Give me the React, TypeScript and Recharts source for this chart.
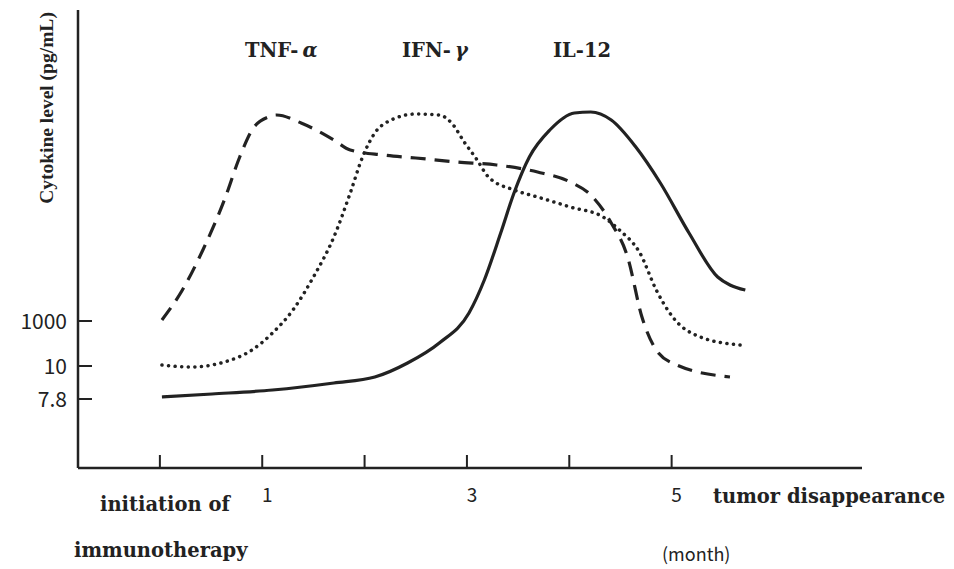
import { LineChart, Line, XAxis, YAxis } from "recharts";

// months since initiation of immunotherapy, relative cytokine level (axis is schematic)
const tnfMonths = [0.02, 0.22, 0.42, 0.63, 0.78, 0.9, 1.06, 1.14, 1.38, 1.7, 1.86, 2.18, 2.5, 2.9, 3.29, 3.69, 4.01, 4.21, 4.41, 4.57, 4.71, 4.85, 5.05, 5.57];
const tnfLevels = [148, 178, 218, 268, 311, 338, 351, 353, 345, 328, 318, 313, 310, 306, 303, 296, 286, 273, 245, 211, 151, 118, 103, 91];

const ifnMonths = [0.02, 0.3, 0.63, 0.9, 1.1, 1.3, 1.5, 1.7, 1.86, 1.98, 2.1, 2.26, 2.5, 2.73, 2.85, 2.98, 3.1, 3.21, 3.46, 3.69, 4.01, 4.33, 4.49, 4.69, 4.85, 5.01, 5.28, 5.67];
const ifnLevels = [103, 101, 106, 118, 135, 158, 191, 231, 275, 311, 335, 348, 354, 353, 345, 325, 308, 291, 278, 271, 261, 251, 238, 215, 178, 151, 131, 123];

const il12Months = [0.02, 0.51, 1.1, 1.7, 2.1, 2.42, 2.73, 3.02, 3.17, 3.33, 3.46, 3.61, 3.81, 4.05, 4.21, 4.41, 4.65, 4.89, 5.17, 5.45, 5.57, 5.72];
const il12Levels = [71, 74, 78, 85, 91, 105, 125, 155, 188, 235, 275, 311, 338, 355, 356, 348, 321, 285, 235, 191, 183, 178];

const xTicks = [0, 1, 2, 3, 4, 5];
const xTickLabels = ["", "1", "", "3", "", "5"];
const yTicks = [69, 102, 147];
const yTickLabels = ["7.8", "10", "1000"];

const toPoints = (months: number[], levels: number[]) =>
  months.map((m, i) => ({ month: m, level: levels[i] }));

const tnfData = toPoints(tnfMonths, tnfLevels);
const ifnData = toPoints(ifnMonths, ifnLevels);
const il12Data = toPoints(il12Months, il12Levels);

const INK = "#222";
const SERIF = "'DejaVu Serif', serif";
const GOTHIC = "'Noto Sans CJK JP', 'Noto Sans', sans-serif";

function XTick({ x, y, payload }: any) {
  const label = xTickLabels[xTicks.indexOf(payload.value)];
  return (
    <g>
      <line x1={x} y1={y} x2={x} y2={y - 13} stroke={INK} strokeWidth={2} />
      {label && (
        <text x={x + 5} y={y + 34} textAnchor="middle" fontFamily={GOTHIC} fontSize={19} fill={INK}>
          {label}
        </text>
      )}
    </g>
  );
}

function YTick({ x, y, payload }: any) {
  const label = yTickLabels[yTicks.indexOf(payload.value)];
  return (
    <g>
      <line x1={x} y1={y} x2={x + 14} y2={y} stroke={INK} strokeWidth={2} />
      <text x={x - 11} y={y} dy="0.36em" textAnchor="end" fontFamily={GOTHIC} fontSize={21} fill={INK}>
        {label}
      </text>
    </g>
  );
}

export default function App() {
  return (
    <div style={{ position: "absolute", left: 0, top: 0, background: "#fff" }}>
      <LineChart width={954} height={569} margin={{ top: 10, right: 92, bottom: 71, left: 18 }}>
        <XAxis
          dataKey="month"
          type="number"
          domain={[-0.8, 6.86]}
          ticks={xTicks}
          tick={<XTick />}
          tickSize={0}
          tickMargin={0}
          tickLine={false}
          axisLine={{ stroke: INK, strokeWidth: 2.5 }}
          allowDataOverflow
        />
        <YAxis
          type="number"
          domain={[0, 458]}
          ticks={yTicks}
          tick={<YTick />}
          tickSize={0}
          tickMargin={0}
          tickLine={false}
          axisLine={{ stroke: INK, strokeWidth: 2.5 }}
          allowDataOverflow
        />
        <Line
          data={tnfData}
          dataKey="level"
          type="monotone"
          stroke={INK}
          strokeWidth={3.2}
          strokeDasharray="15 9"
          dot={false}
          activeDot={false}
          isAnimationActive={false}
        />
        <Line
          data={ifnData}
          dataKey="level"
          type="monotone"
          stroke={INK}
          strokeWidth={3.5}
          strokeDasharray="0.1 6.5"
          strokeLinecap="round"
          dot={false}
          activeDot={false}
          isAnimationActive={false}
        />
        <Line
          data={il12Data}
          dataKey="level"
          type="monotone"
          stroke={INK}
          strokeWidth={3.2}
          dot={false}
          activeDot={false}
          isAnimationActive={false}
        />

        <g fill={INK} fontWeight="bold">
          <text
            transform="translate(53, 108) rotate(-90)"
            textAnchor="middle"
            fontFamily="'Liberation Serif', serif"
            fontSize={19.5}
          >
            Cytokine level (pg/mL)
          </text>
          <text x={245} y={57} fontFamily={SERIF} fontSize={19.5}>
            TNF-<tspan dx={4} fontStyle="italic">α</tspan>
          </text>
          <text x={402} y={57} fontFamily={SERIF} fontSize={19.5}>
            IFN-<tspan dx={4} fontStyle="italic">γ</tspan>
          </text>
          <text x={553} y={57} fontFamily={SERIF} fontSize={19.5}>
            IL-12
          </text>
          <text x={100} y={511} fontFamily={SERIF} fontSize={19.5}>
            initiation of
          </text>
          <text x={74} y={557} fontFamily={SERIF} fontSize={19.5}>
            immunotherapy
          </text>
          <text x={713} y={503} fontFamily={SERIF} fontSize={19.5}>
            tumor disappearance
          </text>
        </g>
        <text x={662} y={561} fontFamily={GOTHIC} fontSize={18} fill={INK}>
          (month)
        </text>
      </LineChart>
    </div>
  );
}
